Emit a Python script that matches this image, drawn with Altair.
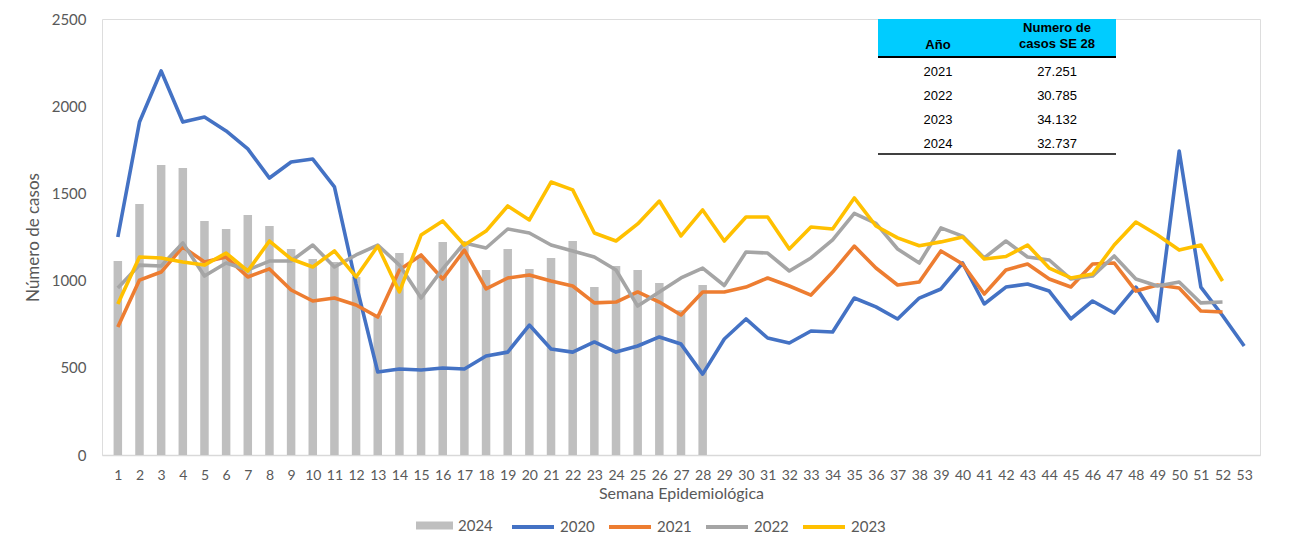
import altair as alt
import pandas as pd

weeks = list(range(1, 54))
s2020 = [1250, 1909, 2202, 1909, 1938, 1858, 1755, 1588, 1680, 1697, 1537, 980, 476, 493, 487, 499, 493, 568, 590, 745,
         608, 590, 648, 590, 625, 677, 636, 464, 665, 780, 671, 642, 711, 705, 900, 849, 780, 900, 952, 1101,
         866, 963, 980, 940, 780, 883, 814, 963, 768, 1743, 963, 800, 625]
s2021 = [734, 1003, 1049, 1193, 1107, 1135, 1021, 1067, 946, 883, 900, 860, 791, 1061, 1147, 1009, 1175, 952, 1015, 1032,
         998, 969, 872, 877, 935, 877, 803, 935, 935, 963, 1015, 969, 917, 1049, 1198, 1072, 975, 992, 1170, 1095,
         923, 1061, 1095, 1009, 963, 1095, 1101, 940, 975, 958, 826, 820]
s2022 = [958, 1089, 1084, 1216, 1026, 1101, 1061, 1112, 1112, 1204, 1078, 1147, 1204, 1089, 900, 1067, 1216, 1187, 1296, 1273,
         1204, 1170, 1135, 1061, 854, 935, 1015, 1072, 972, 1164, 1158, 1055, 1130, 1233, 1385, 1328, 1181, 1101, 1302, 1255,
         1130, 1227, 1135, 1118, 1009, 1026, 1141, 1009, 969, 992, 872, 877]
s2023 = [866, 1135, 1130, 1107, 1089, 1158, 1055, 1227, 1124, 1078, 1170, 1021, 1198, 935, 1261, 1342, 1204, 1284, 1428, 1348,
         1565, 1520, 1273, 1227, 1325, 1456, 1256, 1405, 1227, 1365, 1365, 1181, 1307, 1296, 1474, 1313, 1245, 1200, 1222, 1250,
         1124, 1138, 1204, 1072, 1015, 1038, 1204, 1336, 1261, 1175, 1204, 998]
s2024 = [1112, 1439, 1663, 1646, 1342, 1296, 1376, 1313, 1181, 1124, 1107, 1020, 800, 1158, 1135, 1221, 1200, 1061, 1181, 1067,
         1130, 1227, 963, 1084, 1061, 986, 830, 975]

line_series = ["2020", "2021", "2022", "2023"]
line_colors = ["#4472C4", "#ED7D31", "#A5A5A5", "#FFC000"]
bar_color = "#BFBFBF"

table_years = ["2021", "2022", "2023", "2024"]
table_values = ["27.251", "30.785", "34.132", "32.737"]

FONT = "Lato"
TXT = "#595959"

rows = []
for name, vals in zip(line_series, [s2020, s2021, s2022, s2023]):
    for w, v in zip(weeks, vals):
        rows.append({"semana": w, "casos": v, "serie": name})
df_lines = pd.DataFrame(rows)
df_bars = pd.DataFrame({"semana": weeks[:len(s2024)], "casos": s2024, "serie_b": "2024"})
df_table = pd.DataFrame({"anio": table_years, "valor": table_values, "row": list(range(len(table_years)))})
one = pd.DataFrame({"k": [0]})

xscale = alt.Scale(domain=[0.5, 53.5], nice=False, zero=False)
yscale = alt.Scale(domain=[0, 2500], nice=False)

xaxis = alt.Axis(values=weeks, title="Semana Epidemiológica", labelFontSize=14, labelColor=TXT,
                 labelFont=FONT, titleFont=FONT, titleFontSize=16, titleFontWeight="normal", titleColor=TXT,
                 ticks=False, grid=False, domainColor="#D9D9D9", domainWidth=1.5, labelPadding=13,
                 titlePadding=3, labelOverlap=False, labelFlush=False, format="d")
yaxis = alt.Axis(values=[0, 500, 1000, 1500, 2000, 2500], title="Número de casos", labelFontSize=15,
                 labelColor=TXT, labelFont=FONT, titleFont=FONT, titleFontSize=17, titleFontWeight="normal",
                 titleColor=TXT, ticks=False, grid=False, domain=False, labelPadding=16, titlePadding=9,
                 format="d")

bars = alt.Chart(df_bars).mark_bar(size=8.5).encode(
    x=alt.X("semana:Q", scale=xscale, axis=xaxis),
    y=alt.Y("casos:Q", scale=yscale, axis=yaxis),
    fill=alt.Fill("serie_b:N", scale=alt.Scale(domain=["2024"], range=[bar_color]),
                  legend=alt.Legend(title=None, orient="none", legendX=314, legendY=488, direction="horizontal",
                                    symbolType="M-1,-0.22H1V0.22H-1Z", symbolSize=1369, symbolStrokeWidth=0,
                                    labelFontSize=15, labelColor=TXT, labelFont=FONT, labelOffset=5)),
)

lines = alt.Chart(df_lines).mark_line(strokeWidth=3.6, strokeJoin="round").encode(
    x=alt.X("semana:Q", scale=xscale, axis=xaxis),
    y=alt.Y("casos:Q", scale=yscale, axis=yaxis),
    color=alt.Color("serie:N", scale=alt.Scale(domain=line_series, range=line_colors),
                    legend=alt.Legend(title=None, orient="none", legendX=408, legendY=485, direction="horizontal",
                                      symbolType="stroke", symbolSize=1764, symbolStrokeWidth=4,
                                      labelFontSize=15, labelColor=TXT, labelFont=FONT, labelOffset=4,
                                      columnPadding=6)),
)

# table overlay (pixel positions relative to plot area)
hdr_rect = alt.Chart(one).mark_rect(color="#00CCFF").encode(
    x=alt.value(776), x2=alt.value(1014), y=alt.value(0), y2=alt.value(37))
hdr_line = alt.Chart(one).mark_rule(color="black", strokeWidth=2).encode(
    x=alt.value(776), x2=alt.value(1014), y=alt.value(38))
bot_line = alt.Chart(one).mark_rule(color="black", strokeWidth=1.5).encode(
    x=alt.value(776), x2=alt.value(1014), y=alt.value(135))
hdr_font = dict(font="Liberation Sans", fontSize=13, fontWeight="bold", color="black", baseline="middle", align="center")
hdr1 = alt.Chart(one).mark_text(text="Año", **hdr_font).encode(x=alt.value(836), y=alt.value(26))
hdr2 = alt.Chart(one).mark_text(text="Numero de", **hdr_font).encode(x=alt.value(955), y=alt.value(9))
hdr3 = alt.Chart(one).mark_text(text="casos  SE 28", **hdr_font).encode(x=alt.value(955), y=alt.value(25))
cell_font = dict(font="Liberation Sans", fontSize=13, color="black", baseline="middle", align="center")
col1 = alt.Chart(df_table).mark_text(**cell_font).transform_calculate(ty="53 + datum.row * 24").encode(
    x=alt.value(836), y=alt.Y("ty:Q", scale=None), text="anio:N")
col2 = alt.Chart(df_table).mark_text(**cell_font).transform_calculate(ty="53 + datum.row * 24").encode(
    x=alt.value(955), y=alt.Y("ty:Q", scale=None), text="valor:N")

chart = alt.layer(bars, lines, hdr_rect, hdr_line, bot_line, hdr1, hdr2, hdr3, col1, col2).properties(
    width=1158, height=436,
    autosize=alt.AutoSizeParams(type="none"),
    padding={"left": 94, "top": 11, "right": 25, "bottom": 97},
).configure_view(stroke=None).configure_axis(labelOverlap=False).configure(background="white")

chart.save("out.html", embed_options={"renderer": "svg", "actions": False})
